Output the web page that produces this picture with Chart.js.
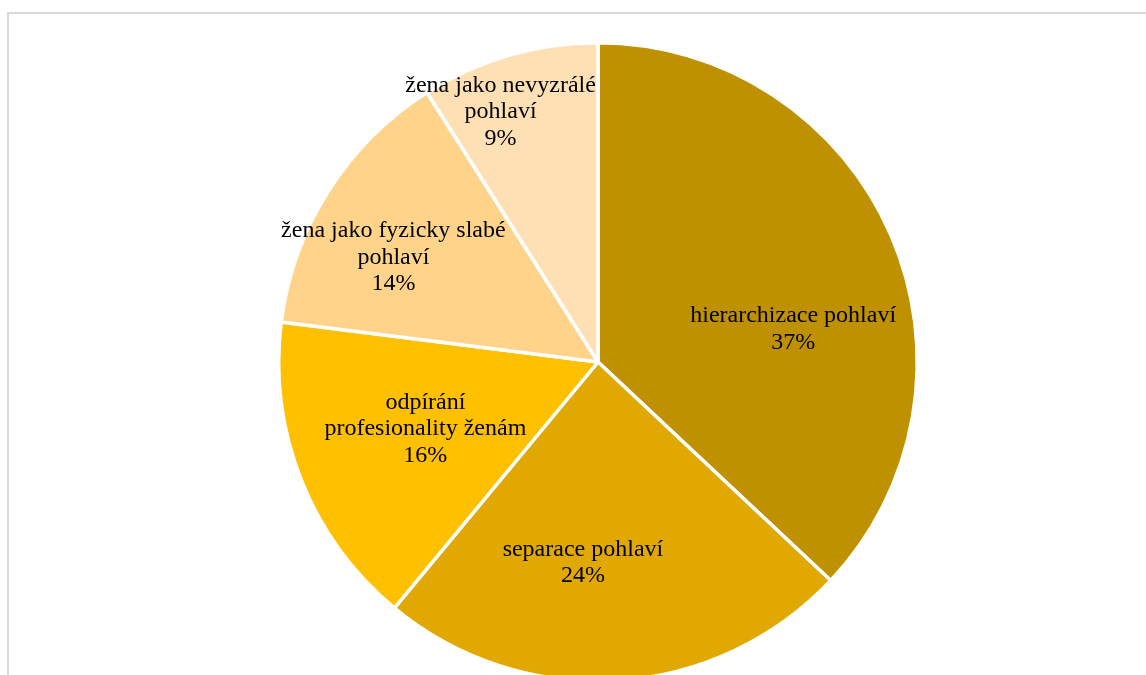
<!DOCTYPE html>
<html>
<head>
<meta charset="utf-8">
<script src="https://cdn.jsdelivr.net/npm/chart.js@4/dist/chart.umd.min.js"></script>
<style>
  html, body { margin: 0; padding: 0; background: #fff; overflow: hidden; }
  #frame { position: absolute; left: 7px; top: 12px; width: 2000px; height: 2000px; border: 2px solid #d9d9d9; }
  #wrap { position: absolute; left: 0; top: 0; width: 1146px; height: 724px; }
</style>
</head>
<body>
<div id="frame"></div>
<div id="wrap"><canvas id="pie"></canvas></div>
<script>
'use strict';

// categories and shares (percent)
const labels = [
  ['hierarchizace pohlaví'],
  ['separace pohlaví'],
  ['odpírání', 'profesionality ženám'],
  ['žena jako fyzicky slabé', 'pohlaví'],
  ['žena jako nevyzrálé', 'pohlaví']
];
const shares = [37, 24, 16, 14, 9];
const colors = ['#bf9000', '#e0a800', '#ffc000', '#ffd38a', '#ffe0b5'];

// where each label sits: angle from slice middle (deg), distance as part of radius
const labelAngleShift = [13.8, 7.9, 0.4, -5.3, -5.1];
const labelDist = [0.62, 0.63, 0.58, 0.72, 0.84];

const sliceLabels = {
  id: 'sliceLabels',
  afterDatasetsDraw(chart) {
    const ctx = chart.ctx;
    const arcs = chart.getDatasetMeta(0).data;
    ctx.save();
    ctx.font = '24px "Liberation Serif", "Times New Roman", serif';
    ctx.fillStyle = '#000';
    ctx.textAlign = 'center';
    ctx.textBaseline = 'middle';
    arcs.forEach((arc, i) => {
      const mid = (arc.startAngle + arc.endAngle) / 2 + labelAngleShift[i] * Math.PI / 180;
      const r = arc.outerRadius * labelDist[i];
      const x = arc.x + Math.cos(mid) * r;
      const y = arc.y + Math.sin(mid) * r;
      const lines = labels[i].concat([shares[i] + '%']);
      const lh = 26.5;
      lines.forEach((t, k) => {
        ctx.fillText(t, x, y + (k - (lines.length - 1) / 2) * lh);
      });
    });
    ctx.restore();
  }
};

const ctx = document.getElementById('pie').getContext('2d');
new Chart(ctx, {
  type: 'pie',
  data: {
    labels: labels.map(l => l.join(' ')),
    datasets: [{
      data: shares,
      backgroundColor: colors,
      borderColor: '#ffffff',
      borderWidth: 3.5
    }]
  },
  options: {
    responsive: true,
    maintainAspectRatio: false,
    animation: false,
    layout: { padding: { left: 277, right: 227, top: 41, bottom: 41 } },
    plugins: {
      legend: { display: false },
      tooltip: { enabled: false }
    }
  },
  plugins: [sliceLabels]
});
</script>
</body>
</html>
